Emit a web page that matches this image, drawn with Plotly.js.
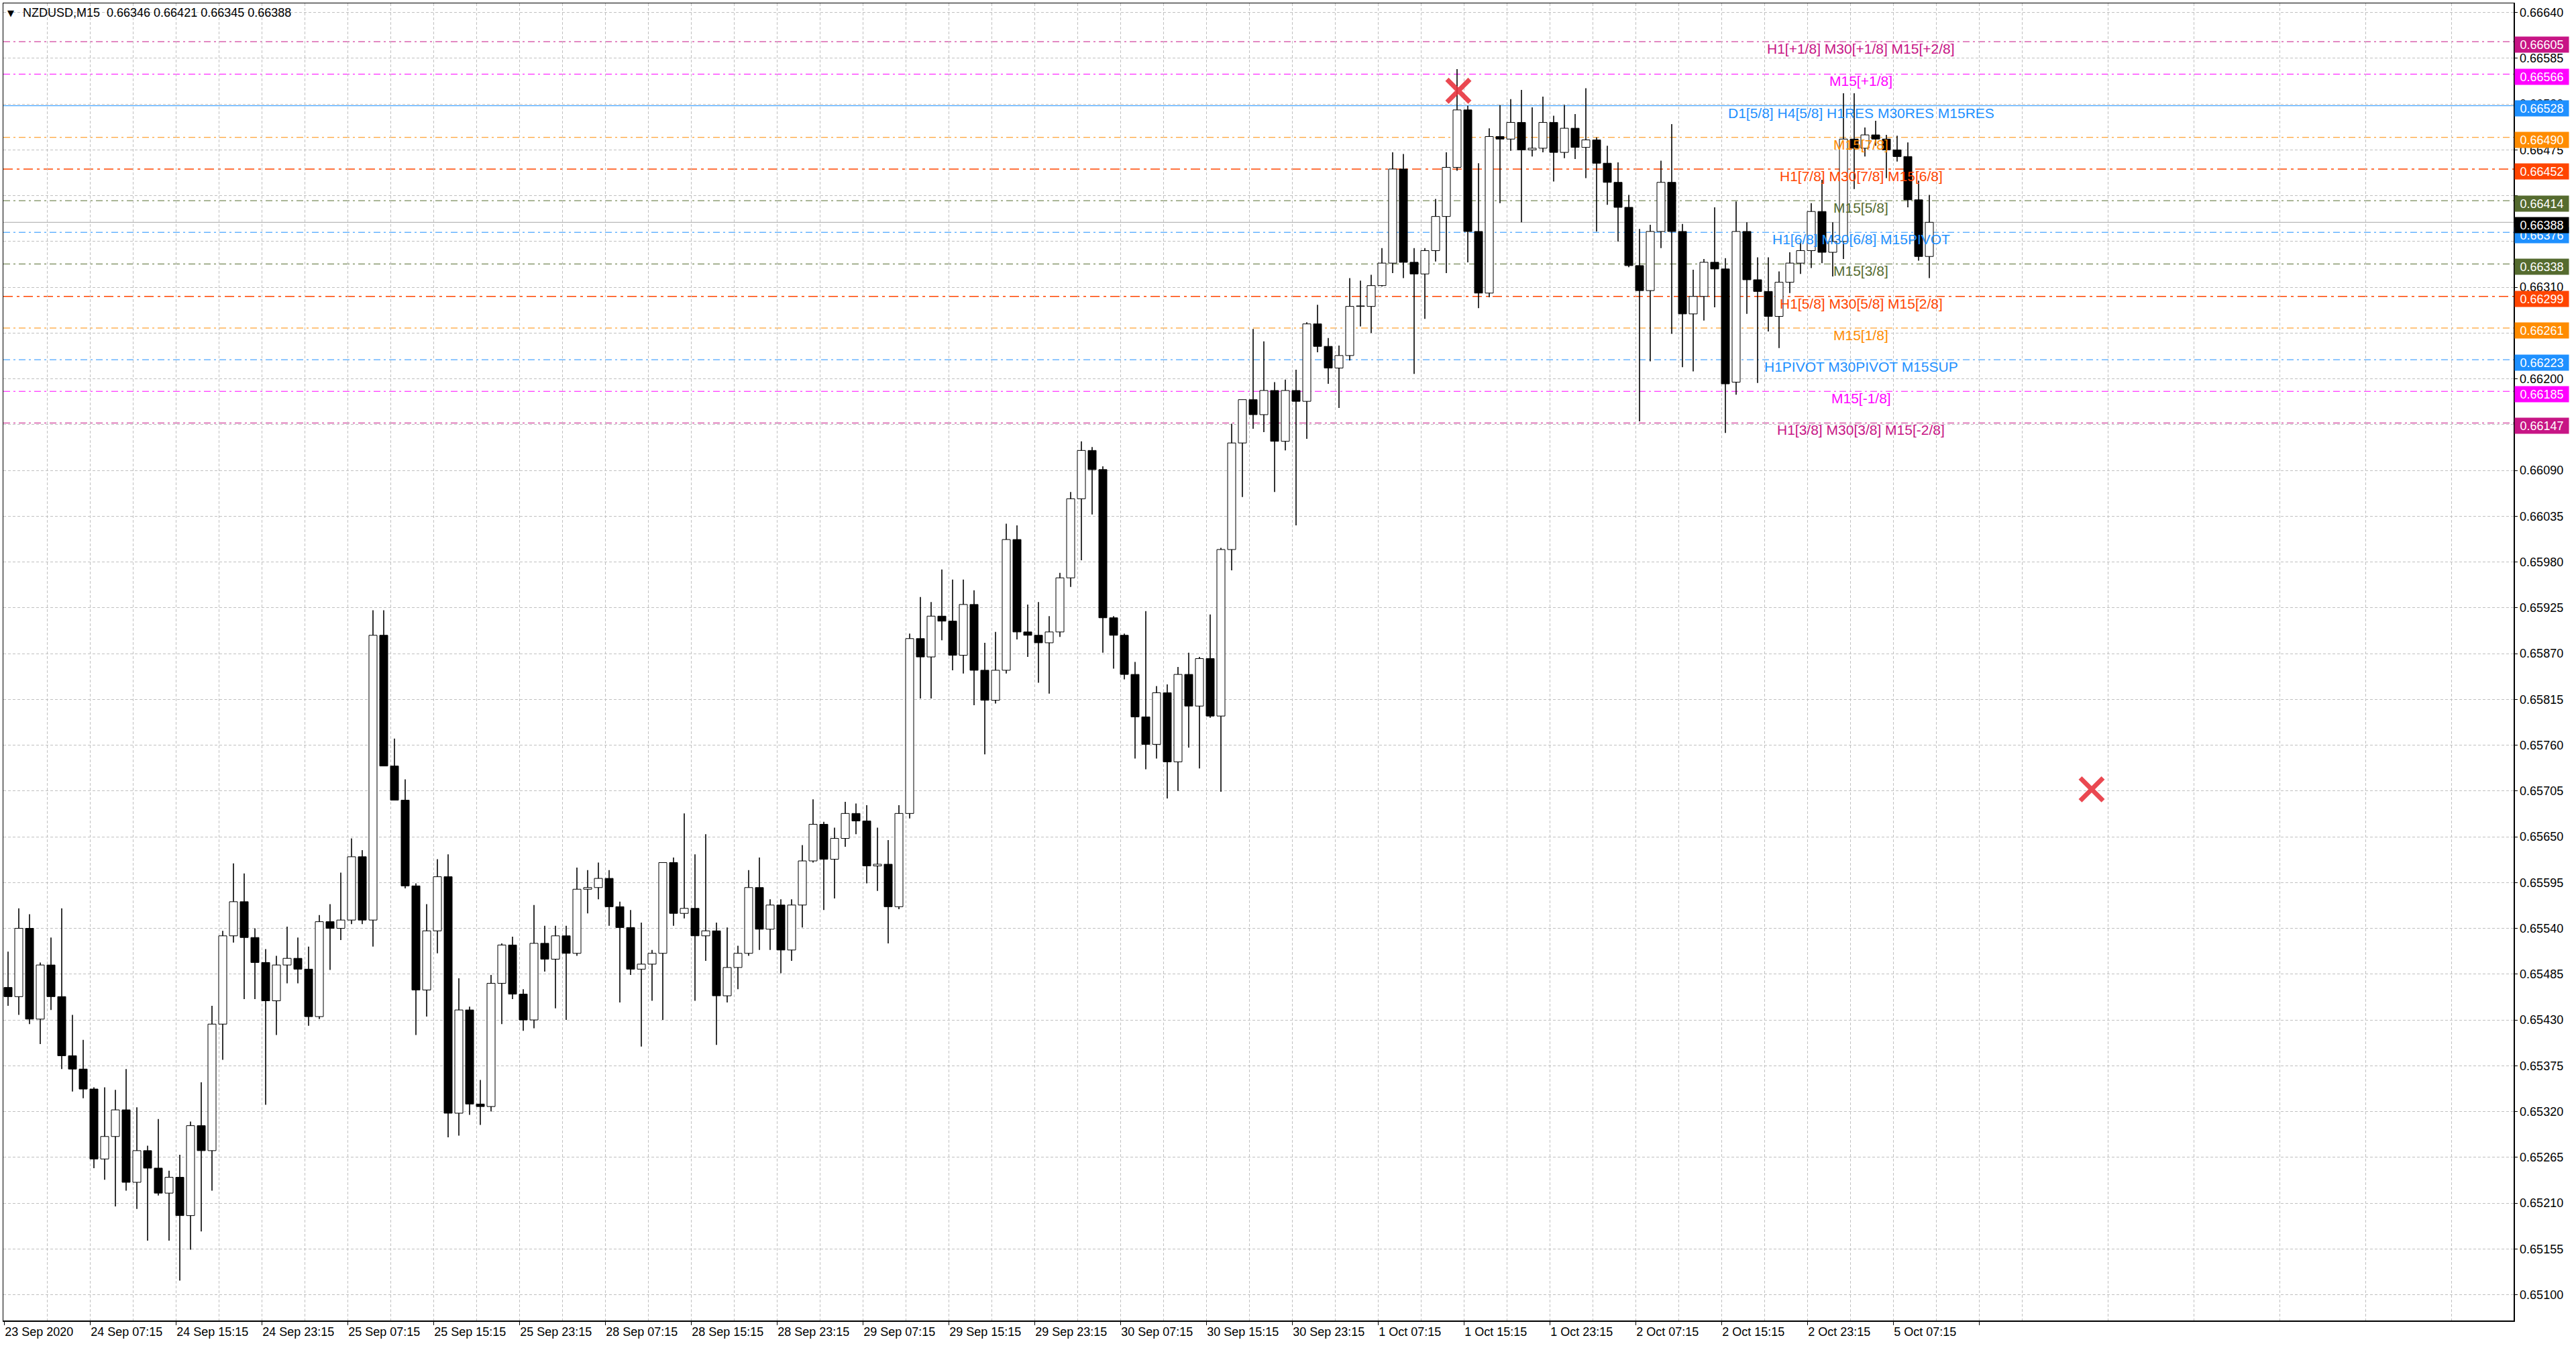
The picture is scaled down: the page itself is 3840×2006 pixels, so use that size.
<!DOCTYPE html>
<html>
<head>
<meta charset="utf-8">
<script src="https://cdn.plot.ly/plotly-3.0.1.min.js"></script>
<style>
  html, body { margin: 0; padding: 0; background: #ffffff; }
  #chart { width: 3840px; height: 2006px; }
</style>
</head>
<body>
<div id="chart"></div>
<script>
const opens = [
  0.65469,0.65458,0.65540,0.65431,0.65496,0.65458,0.65387,0.65371,0.65347,0.65263,
  0.65290,0.65322,0.65235,0.65273,0.65252,0.65222,0.65241,0.65195,0.65303,0.65273,
  0.65425,0.65531,0.65572,0.65529,0.65499,0.65453,0.65496,0.65504,0.65491,0.65434,
  0.65548,0.65540,0.65550,0.65626,0.65550,0.65892,0.65735,0.65694,0.65591,0.65466,
  0.65537,0.65602,0.65318,0.65442,0.65329,0.65326,0.65474,0.65520,0.65461,0.65430,
  0.65522,0.65503,0.65531,0.65510,0.65587,0.65589,0.65600,0.65566,0.65541,0.65491,
  0.65497,0.65510,0.65619,0.65558,0.65564,0.65531,0.65537,0.65459,0.65493,0.65510,
  0.65589,0.65539,0.65568,0.65514,0.65568,0.65621,0.65665,0.65623,0.65648,0.65678,
  0.65669,0.65615,0.65617,0.65566,0.65678,0.65888,0.65866,0.65915,0.65909,0.65868,
  0.65929,0.65850,0.65814,0.65850,0.66007,0.65896,0.65892,0.65883,0.65896,0.65961,
  0.66056,0.66114,0.66091,0.65913,0.65892,0.65845,0.65794,0.65761,0.65823,0.65740,
  0.65845,0.65807,0.65864,0.65795,0.65995,0.66123,0.66175,0.66157,0.66186,0.66125,
  0.66186,0.66173,0.66266,0.66239,0.66213,0.66228,0.66287,0.66287,0.66312,0.66339,
  0.66452,0.66340,0.66326,0.66354,0.66395,0.66454,0.66523,0.66377,0.66303,0.66491,
  0.66488,0.66508,0.66475,0.66477,0.66508,0.66472,0.66501,0.66478,0.66487,0.66459,
  0.66436,0.66406,0.66336,0.66306,0.66377,0.66436,0.66377,0.66278,0.66299,0.66340,
  0.66332,0.66196,0.66377,0.66319,0.66305,0.66275,0.66316,0.66339,0.66354,0.66401,
  0.66352,0.66365,0.66488,0.66477,0.66493,0.66488,0.66475,0.66467,0.66415,0.66347
];
const highs = [
  0.65512,0.65564,0.65557,0.65499,0.65529,0.65564,0.65436,0.65406,0.65349,0.65349,
  0.65346,0.65371,0.65325,0.65279,0.65311,0.65249,0.65268,0.65308,0.65355,0.65447,
  0.65537,0.65618,0.65606,0.65540,0.65515,0.65507,0.65542,0.65529,0.65518,0.65556,
  0.65569,0.65607,0.65648,0.65634,0.65922,0.65922,0.65768,0.65719,0.65594,0.65569,
  0.65623,0.65629,0.65480,0.65446,0.65358,0.65484,0.65522,0.65530,0.65467,0.65568,
  0.65543,0.65543,0.65543,0.65613,0.65610,0.65619,0.65610,0.65572,0.65562,0.65547,
  0.65514,0.65619,0.65625,0.65678,0.65629,0.65653,0.65547,0.65541,0.65519,0.65610,
  0.65625,0.65575,0.65575,0.65575,0.65640,0.65695,0.65668,0.65661,0.65692,0.65690,
  0.65688,0.65661,0.65646,0.65688,0.65894,0.65938,0.65932,0.65971,0.65959,0.65959,
  0.65946,0.65883,0.65896,0.66026,0.66024,0.65929,0.65932,0.65915,0.65967,0.66064,
  0.66125,0.66118,0.66095,0.65915,0.65894,0.65860,0.65921,0.65831,0.65833,0.65854,
  0.65871,0.65866,0.65917,0.65997,0.66146,0.66175,0.66260,0.66245,0.66196,0.66199,
  0.66211,0.66268,0.66289,0.66249,0.66240,0.66321,0.66318,0.66325,0.66357,0.66472,
  0.66470,0.66357,0.66357,0.66416,0.66472,0.66572,0.66528,0.66459,0.66501,0.66529,
  0.66536,0.66547,0.66526,0.66539,0.66516,0.66529,0.66518,0.66549,0.66490,0.66480,
  0.66460,0.66421,0.66380,0.66385,0.66462,0.66506,0.66386,0.66331,0.66344,0.66406,
  0.66345,0.66413,0.66388,0.66346,0.66346,0.66329,0.66352,0.66365,0.66411,0.66439,
  0.66388,0.66543,0.66543,0.66502,0.66510,0.66493,0.66492,0.66484,0.66438,0.66421
];
const lows = [
  0.65447,0.65436,0.65425,0.65401,0.65442,0.65371,0.65344,0.65336,0.65252,0.65238,
  0.65206,0.65225,0.65203,0.65165,0.65219,0.65165,0.65117,0.65154,0.65176,0.65225,
  0.65382,0.65523,0.65455,0.65455,0.65328,0.65412,0.65474,0.65474,0.65423,0.65431,
  0.65490,0.65526,0.65545,0.65545,0.65518,0.65735,0.65694,0.65588,0.65412,0.65434,
  0.65510,0.65289,0.65291,0.65316,0.65304,0.65320,0.65425,0.65455,0.65417,0.65420,
  0.65488,0.65444,0.65430,0.65507,0.65558,0.65575,0.65543,0.65451,0.65484,0.65398,
  0.65453,0.65430,0.65543,0.65552,0.65453,0.65501,0.65400,0.65451,0.65467,0.65507,
  0.65514,0.65514,0.65486,0.65501,0.65541,0.65619,0.65562,0.65576,0.65638,0.65653,
  0.65594,0.65585,0.65522,0.65563,0.65672,0.65816,0.65816,0.65886,0.65850,0.65846,
  0.65808,0.65749,0.65810,0.65846,0.65887,0.65866,0.65835,0.65822,0.65890,0.65950,
  0.65982,0.66037,0.65871,0.65852,0.65839,0.65744,0.65731,0.65744,0.65696,0.65705,
  0.65757,0.65732,0.65793,0.65704,0.65970,0.66058,0.66140,0.66136,0.66064,0.66114,
  0.66024,0.66128,0.66232,0.66194,0.66165,0.66222,0.66263,0.66255,0.66311,0.66327,
  0.66321,0.66206,0.66272,0.66341,0.66327,0.66450,0.66340,0.66285,0.66298,0.66411,
  0.66474,0.66388,0.66467,0.66472,0.66437,0.66465,0.66464,0.66441,0.66377,0.66409,
  0.66365,0.66334,0.66149,0.66221,0.66357,0.66254,0.66214,0.66209,0.66270,0.66286,
  0.66135,0.66181,0.66278,0.66195,0.66257,0.66237,0.66303,0.66326,0.66333,0.66339,
  0.66323,0.66344,0.66428,0.66467,0.66480,0.66441,0.66461,0.66406,0.66342,0.66321
];
const closes = [
  0.65458,0.65540,0.65431,0.65496,0.65458,0.65387,0.65371,0.65347,0.65263,0.65290,
  0.65322,0.65235,0.65273,0.65252,0.65222,0.65241,0.65195,0.65303,0.65273,0.65425,
  0.65531,0.65572,0.65529,0.65499,0.65453,0.65496,0.65504,0.65491,0.65434,0.65548,
  0.65540,0.65550,0.65626,0.65550,0.65892,0.65735,0.65694,0.65591,0.65466,0.65537,
  0.65602,0.65318,0.65442,0.65329,0.65326,0.65474,0.65520,0.65461,0.65430,0.65522,
  0.65503,0.65531,0.65510,0.65587,0.65589,0.65600,0.65566,0.65541,0.65491,0.65497,
  0.65510,0.65619,0.65558,0.65564,0.65531,0.65537,0.65459,0.65493,0.65510,0.65589,
  0.65539,0.65568,0.65514,0.65568,0.65621,0.65665,0.65623,0.65648,0.65678,0.65669,
  0.65615,0.65617,0.65566,0.65678,0.65888,0.65866,0.65915,0.65909,0.65868,0.65929,
  0.65850,0.65814,0.65850,0.66007,0.65896,0.65892,0.65883,0.65896,0.65961,0.66056,
  0.66114,0.66091,0.65913,0.65892,0.65845,0.65794,0.65761,0.65823,0.65740,0.65845,
  0.65807,0.65864,0.65795,0.65995,0.66123,0.66175,0.66157,0.66186,0.66125,0.66186,
  0.66173,0.66266,0.66239,0.66213,0.66228,0.66287,0.66287,0.66312,0.66339,0.66452,
  0.66340,0.66326,0.66354,0.66395,0.66454,0.66523,0.66377,0.66303,0.66491,0.66488,
  0.66508,0.66475,0.66477,0.66508,0.66472,0.66501,0.66478,0.66487,0.66459,0.66436,
  0.66406,0.66336,0.66306,0.66377,0.66436,0.66377,0.66278,0.66299,0.66340,0.66332,
  0.66194,0.66377,0.66319,0.66305,0.66275,0.66316,0.66339,0.66354,0.66401,0.66352,
  0.66365,0.66488,0.66477,0.66493,0.66488,0.66475,0.66467,0.66415,0.66347,0.66388
];

// time axis: one label every 32 M15 bars
const timeLabels = ["23 Sep 2020","24 Sep 07:15","24 Sep 15:15","24 Sep 23:15","25 Sep 07:15",
  "25 Sep 15:15","25 Sep 23:15","28 Sep 07:15","28 Sep 15:15","28 Sep 23:15","29 Sep 07:15",
  "29 Sep 15:15","29 Sep 23:15","30 Sep 07:15","30 Sep 15:15","30 Sep 23:15","1 Oct 07:15",
  "1 Oct 15:15","1 Oct 23:15","2 Oct 07:15","2 Oct 15:15","2 Oct 23:15","5 Oct 07:15",""];
const yTicks = [0.65100,0.65155,0.65210,0.65265,0.65320,0.65375,0.65430,0.65485,0.65540,0.65595,
  0.65650,0.65705,0.65760,0.65815,0.65870,0.65925,0.65980,0.66035,0.66090,0.66145,0.66200,
  0.66255,0.66310,0.66365,0.66420,0.66475,0.66530,0.66585,0.66640];
// labels hidden behind the level boxes are left blank
const yTickLabels = ["0.65100","0.65155","0.65210","0.65265","0.65320","0.65375","0.65430","0.65485",
  "0.65540","0.65595","0.65650","0.65705","0.65760","0.65815","0.65870","0.65925","0.65980","0.66035",
  "0.66090","0.66145","0.66200","0.66255","0.66310","","","0.66475","0.66530","0.66585","0.66640"];

// murrey levels drawn by the indicator
const levelPrices = [0.66605,0.66566,0.66528,0.66490,0.66452,0.66414,0.66376,0.66338,0.66299,0.66261,0.66223,0.66185,0.66147];
const levelNames = ["H1[+1/8] M30[+1/8] M15[+2/8]","M15[+1/8]","D1[5/8] H4[5/8] H1RES M30RES M15RES",
  "M15[7/8]","H1[7/8] M30[7/8] M15[6/8]","M15[5/8]","H1[6/8] M30[6/8] M15PIVOT","M15[3/8]",
  "H1[5/8] M30[5/8] M15[2/8]","M15[1/8]","H1PIVOT M30PIVOT M15SUP","M15[-1/8]","H1[3/8] M30[3/8] M15[-2/8]"];
const levelColors = ["#C71585","#FF00FF","#1E90FF","#FF8C00","#FF4500","#556B2F","#1E90FF",
  "#556B2F","#FF4500","#FF8C00","#1E90FF","#FF00FF","#C71585"];
const levelLabelBar = 692;
const bidPrice = 0.66388;

// red cross objects
const crossBars = [542, 778];
const crossPrices = [0.66546, 0.65707];

const BARS_PER_CANDLE = 4;
const FONT = "Liberation Sans, Arial, sans-serif";

let xs = [], bodyBase = [], bodyLen = [], bodyColor = [], wickBase = [], wickLen = [];
for (let i = 0; i < closes.length; i++) {
    let o = opens[i], c = closes[i];
    xs.push(i * BARS_PER_CANDLE + 1.5);
    bodyBase.push(Math.min(o, c));
    bodyLen.push(Math.max(Math.abs(c - o), 0.000006));
    bodyColor.push(c >= o ? "#ffffff" : "#000000");
    wickBase.push(lows[i]);
    wickLen.push(highs[i] - lows[i]);
}

let tickBars = [];
for (let k = 0; k < timeLabels.length; k++) tickBars.push(k * 32);
let gridBars = [];
for (let b = 16; b < 936; b += 32) gridBars.push(b);

var wicks = {
    type: "bar", x: xs, y: wickLen, base: wickBase, width: 0.4,
    marker: { color: "#000000", line: { width: 0 } },
    hoverinfo: "skip", showlegend: false
};
var bodies = {
    type: "bar", x: xs, y: bodyLen, base: bodyBase, width: 3,
    marker: { color: bodyColor, line: { color: "#000000", width: 1 } },
    hoverinfo: "skip", showlegend: false
};
var crosses = {
    type: "scatter", mode: "markers", x: crossBars, y: crossPrices,
    marker: { symbol: "x-thin", size: 34, line: { color: "rgba(232,52,62,0.9)", width: 7 } },
    hoverinfo: "skip", showlegend: false, cliponaxis: false
};

let shapes = [];
let annotations = [];
for (let i = 0; i < levelPrices.length; i++) {
    let solid = levelNames[i].indexOf("D1") === 0;
    let thick = levelColors[i] === "#FF4500";
    shapes.push({
        type: "line", xref: "paper", x0: 0, x1: 1, yref: "y", y0: levelPrices[i], y1: levelPrices[i],
        line: { color: levelColors[i], width: thick ? 1.6 : 1, dash: solid ? "solid" : (thick ? "14px,6px,4px,6px" : "10px,5px,3px,5px") },
        layer: "below"
    });
    annotations.push({
        xref: "x", x: levelLabelBar, yref: "y", y: levelPrices[i], yshift: -10.5,
        text: levelNames[i], showarrow: false, xanchor: "center", yanchor: "middle",
        font: { family: FONT, size: 21, color: levelColors[i] }
    });
    annotations.push({
        xref: "paper", x: 1, xanchor: "left", xshift: 1, yref: "y", y: levelPrices[i], yshift: -4,
        yanchor: "middle", text: levelPrices[i].toFixed(5), showarrow: false,
        bgcolor: levelColors[i], width: 78, height: 21, borderpad: 1, align: "center",
        font: { family: FONT, size: 18, color: "#ffffff" }
    });
}
// bid line
shapes.push({
    type: "line", xref: "paper", x0: 0, x1: 1, yref: "y", y0: bidPrice, y1: bidPrice,
    line: { color: "#b8b8b8", width: 1.2 }, layer: "below"
});
annotations.push({
    xref: "paper", x: 1, xanchor: "left", xshift: 1, yref: "y", y: bidPrice, yshift: -4,
    yanchor: "middle", text: bidPrice.toFixed(5), showarrow: false,
    bgcolor: "#000000", width: 78, height: 21, borderpad: 1, align: "center",
    font: { family: FONT, size: 18, color: "#ffffff" }
});
// header
annotations.push({
    xref: "paper", x: 0, xanchor: "left", xshift: 4, yref: "paper", y: 1, yanchor: "middle", yshift: -14,
    text: "\u25BC", showarrow: false, font: { family: "DejaVu Sans", size: 13, color: "#000000" }
});
annotations.push({
    xref: "paper", x: 0, xanchor: "left", xshift: 27, yref: "paper", y: 1, yanchor: "middle", yshift: -14,
    text: "NZDUSD,M15\u00a0\u00a00.66346 0.66421 0.66345 0.66388", showarrow: false,
    font: { family: FONT, size: 18, color: "#000000" }
});

var layout = {
    width: 3840, height: 2006,
    margin: { l: 5, r: 93, t: 5, b: 38, pad: 0 },
    paper_bgcolor: "#ffffff", plot_bgcolor: "#ffffff",
    font: { family: FONT, size: 18, color: "#000000" },
    barmode: "overlay", showlegend: false,
    xaxis: {
        range: [-0.25, 935.25], fixedrange: true,
        tickmode: "array", tickvals: tickBars, ticktext: timeLabels,
        ticks: "outside", ticklen: 5, tickcolor: "#000000", tickwidth: 1,
        ticklabelposition: "outside right",
        showgrid: true, gridcolor: "#c0c0c0", griddash: "4px,3px", gridwidth: 1,
        minor: { tickmode: "array", tickvals: gridBars, showgrid: true, gridcolor: "#c0c0c0", griddash: "4px,3px", gridwidth: 1, ticklen: 0 },
        showline: true, linecolor: "#000000", linewidth: 1.5, mirror: true,
        zeroline: false,
        tickfont: { family: FONT, size: 18, color: "#000000" }
    },
    yaxis: {
        range: [0.65069, 0.66651], fixedrange: true, side: "right",
        tickmode: "array", tickvals: yTicks, ticktext: yTickLabels,
        ticks: "outside", ticklen: 4, tickcolor: "#000000", tickwidth: 1,
        showgrid: true, gridcolor: "#c0c0c0", griddash: "4px,3px", gridwidth: 1,
        showline: true, linecolor: "#000000", linewidth: 1.5, mirror: true,
        zeroline: false,
        tickfont: { family: FONT, size: 18, color: "#000000" }
    },
    shapes: shapes,
    annotations: annotations
};

Plotly.newPlot("chart", [wicks, bodies, crosses], layout, { staticPlot: true });
</script>
</body>
</html>
